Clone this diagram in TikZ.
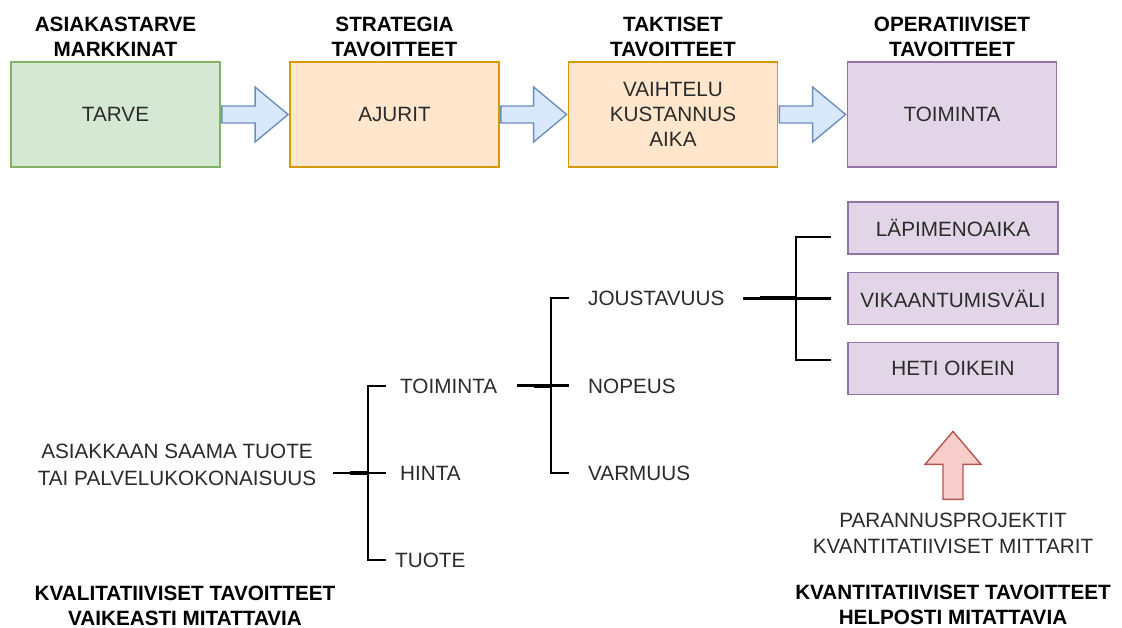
\documentclass[tikz,border=0pt]{standalone}
\usepackage{fontspec}
\setmainfont{Liberation Sans}
\usetikzlibrary{calc}
\definecolor{gfill}{HTML}{D5E8D4}\definecolor{gline}{HTML}{82B366}
\definecolor{ofill}{HTML}{FFE6CC}\definecolor{oline}{HTML}{D79B00}
\definecolor{pfill}{HTML}{E1D5E7}\definecolor{pline}{HTML}{9673A6}
\definecolor{bfill}{HTML}{DAE8FC}\definecolor{bline}{HTML}{6C8EBF}
\definecolor{rfill}{HTML}{F8CECC}\definecolor{rline}{HTML}{B85450}
\definecolor{txt}{HTML}{2B2B2B}
\tikzset{
  bigbox/.style={draw, line width=1.8pt, minimum width=209pt, minimum height=105pt, inner sep=0pt, align=center, text=txt,
    font=\fontsize{20.7}{25}\selectfont},
  smallbox/.style={draw=pline, fill=pfill, line width=1.8pt, minimum width=210pt, minimum height=52pt, inner sep=0pt, text=txt,
    font=\fontsize{20.7}{25}\selectfont},
  ttl/.style={align=center, inner sep=0pt, text=black, font=\fontsize{20.7}{25}\selectfont\bfseries},
  lbl/.style={inner sep=0pt, text=txt, font=\fontsize{20.7}{26}\selectfont, text height=14.8pt, text depth=0pt},
  mlbl/.style={inner sep=0pt, align=center, text=txt, font=\fontsize{20.7}{26.5}\selectfont},
  barrow/.style={draw=bline, fill=bfill, line width=1.4pt, line join=miter},
  rarrow/.style={draw=rline, fill=rfill, line width=1.4pt, line join=miter},
  brk/.style={draw=black, line width=2.6pt},
  brkthick/.style={draw=black, line width=4pt}
}
\newcommand\blockarr[2]{%
  \draw[barrow] let \p1=(#1.east), \p2=(#2.west) in
    (\x1+0.9pt,\y1+8.5pt) -- (\x2-34pt,\y1+8.5pt) -- (\x2-34pt,\y1+27.5pt) -- (\x2-1pt,\y1)
    -- (\x2-34pt,\y1-27.5pt) -- (\x2-34pt,\y1-8.5pt) -- (\x1+0.9pt,\y1-8.5pt) -- cycle;}
\newcommand\bracketdraw[5]{% #1 stub-left x, #2 vertical x, #3 tick right x, #4 top y, #5 bottom y ; stub at middle
  \draw[brk] (#3,#4) -- (#2,#4) -- (#2,#5) -- (#3,#5);
  \draw[brk] (#1,{(#4+#5)/2}) -- (#3,{(#4+#5)/2});
  \draw[brkthick] ({#1+17},{(#4+#5)/2}) -- (#2,{(#4+#5)/2});}
\begin{document}
\begin{tikzpicture}[x=1pt,y=-1pt]
\useasboundingbox[fill=white] (0,0) rectangle (1122,628);

% top boxes
\node[bigbox, draw=gline, fill=gfill] (b1) at (115.5,114.5) {TARVE};
\node[bigbox, draw=oline, fill=ofill] (b2) at (394.5,114.5) {AJURIT};
\node[bigbox, draw=oline, fill=ofill] (b3) at (673,114.5) {VAIHTELU\\KUSTANNUS\\AIKA};
\node[bigbox, draw=pline, fill=pfill] (b4) at (952,114.5) {TOIMINTA};

\node[ttl, anchor=south] (t1) at ($(b1.north)+(0,-4)$) {ASIAKASTARVE\\MARKKINAT};
\node[ttl, anchor=south] (t2) at ($(b2.north)+(0,-4)$) {STRATEGIA\\TAVOITTEET};
\node[ttl, anchor=south] (t3) at ($(b3.north)+(0,-4)$) {TAKTISET\\TAVOITTEET};
\node[ttl, anchor=south] (t4) at ($(b4.north)+(0,-4)$) {OPERATIIVISET\\TAVOITTEET};

\blockarr{b1}{b2}
\blockarr{b2}{b3}
\blockarr{b3}{b4}

% operative measure boxes
\node[smallbox] (m1) at (953,228) {LÄPIMENOAIKA};
\node[smallbox] (m2) at (953,298.5) {VIKAANTUMISVÄLI};
\node[smallbox] (m3) at (953,368.5) {HETI OIKEIN};

% tree labels
\node[mlbl] (root) at (177,465) {ASIAKKAAN SAAMA TUOTE\\TAI PALVELUKOKONAISUUS};
\node[lbl, anchor=west] (toim) at (400,386) {TOIMINTA};
\node[lbl, anchor=west] (hinta) at (400,473) {HINTA};
\node[lbl, anchor=west] (tuote) at (395,560) {TUOTE};
\node[lbl, anchor=west] (jous) at (588,298) {JOUSTAVUUS};
\node[lbl, anchor=west] (nop) at (588,386) {NOPEUS};
\node[lbl, anchor=west] (varm) at (588,473) {VARMUUS};

% brackets
\bracketdraw{333}{368}{386}{386}{560}
\bracketdraw{517}{551}{569}{298}{473}
\bracketdraw{743}{796}{831}{237}{360}

% red improvement arrow
\draw[rarrow] ($(m3.south)+(-10,104)$) -- ($(m3.south)+(-10,69)$) -- ($(m3.south)+(-28,69)$)
  -- ($(m3.south)+(0,36)$) -- ($(m3.south)+(28,69)$) -- ($(m3.south)+(10,69)$) -- ($(m3.south)+(10,104)$) -- cycle;

\node[mlbl] (paran) at (953,533.5) {PARANNUSPROJEKTIT\\KVANTITATIIVISET MITTARIT};

\node[ttl] (kval) at (185,606) {KVALITATIIVISET TAVOITTEET\\VAIKEASTI MITATTAVIA};
\node[ttl] (kvan) at (953,605) {KVANTITATIIVISET TAVOITTEET\\HELPOSTI MITATTAVIA};
\end{tikzpicture}
\end{document}
